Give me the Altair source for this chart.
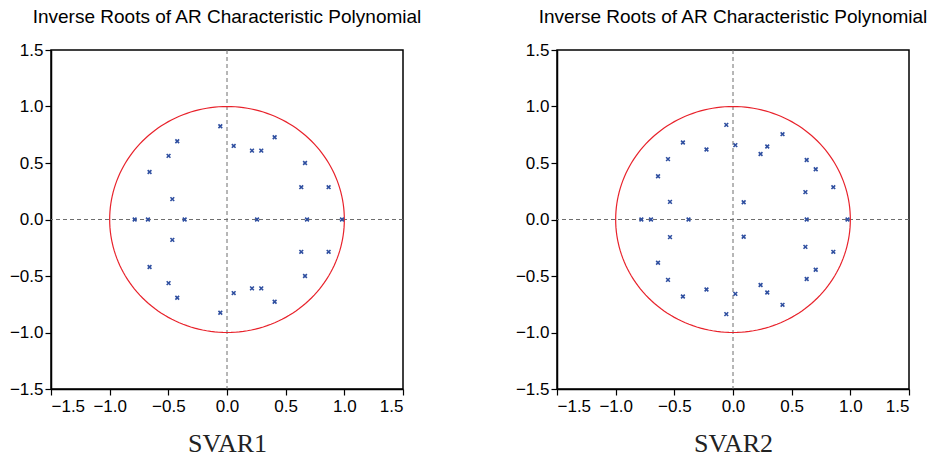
import altair as alt
import pandas as pd

chart_title = "Inverse Roots of AR Characteristic Polynomial"
panel_labels = ["SVAR1", "SVAR2"]
axis_ticks = [-1.5, -1.0, -0.5, 0.0, 0.5, 1.0, 1.5]

# SVAR1 inverse roots (real, imaginary)
svar1_re = [-0.787, -0.674, -0.361, 0.256, 0.682, 0.980,
            -0.057, -0.057, 0.057, 0.057, -0.424, -0.424, -0.498, -0.498,
            -0.660, -0.660, -0.466, -0.466, 0.213, 0.213, 0.292, 0.292,
            0.406, 0.406, 0.665, 0.665, 0.633, 0.633, 0.866, 0.866]
svar1_im = [0.0, 0.0, 0.0, 0.0, 0.0, 0.0,
            0.825, -0.825, 0.651, -0.651, 0.693, -0.693, 0.563, -0.563,
            0.420, -0.420, 0.180, -0.180, 0.610, -0.610, 0.610, -0.610,
            0.728, -0.728, 0.500, -0.500, 0.286, -0.286, 0.286, -0.286]

# SVAR2 inverse roots (real, imaginary)
svar2_re = [-0.781, -0.699, -0.379, 0.628, 0.976,
            -0.537, -0.537, -0.639, -0.639, -0.554, -0.554, -0.427, -0.427,
            -0.226, -0.226, -0.057, -0.057, 0.020, 0.020, 0.235, 0.235,
            0.292, 0.292, 0.422, 0.422, 0.628, 0.628, 0.705, 0.705,
            0.617, 0.617, 0.855, 0.855, 0.091, 0.091]
svar2_im = [0.0, 0.0, 0.0, 0.0, 0.0,
            0.156, -0.156, 0.383, -0.383, 0.534, -0.534, 0.681, -0.681,
            0.619, -0.619, 0.837, -0.837, 0.658, -0.658, 0.580, -0.580,
            0.646, -0.646, 0.755, -0.755, 0.527, -0.527, 0.445, -0.445,
            0.242, -0.242, 0.286, -0.286, 0.153, -0.153]

X_SHAPE = "M-1,-1L1,1M-1,1L1,-1"


def panel(re, im, label):
    df = pd.DataFrame({"re": re, "im": im})
    xs = alt.Scale(domain=[-1.5, 1.5], nice=False, zero=False)
    ys = alt.Scale(domain=[-1.5, 1.5], nice=False, zero=False)
    xaxis = alt.Axis(values=axis_ticks, format=".1f", grid=False, tickSize=6,
                     labelPadding=3, title=label, titleFont="Liberation Serif",
                     titleFontSize=26, titleFontWeight="normal", titlePadding=16,
                     titleColor="#222222")
    yaxis = alt.Axis(values=axis_ticks, format=".1f", grid=False, tickSize=6,
                     labelPadding=2, title=None)

    def X(field):
        return alt.X(field, type="quantitative", scale=xs, axis=xaxis)

    def Y(field):
        return alt.Y(field, type="quantitative", scale=ys, axis=yaxis)

    zero = pd.DataFrame({"v": [0.0]})
    vrule = alt.Chart(zero).mark_rule(color="#6e6e6e", strokeWidth=1,
                                      strokeDash=[4, 3]).encode(x=X("v"))
    hrule = alt.Chart(zero).mark_rule(color="#6e6e6e", strokeWidth=1,
                                      strokeDash=[4, 3]).encode(y=Y("v"))
    circle = (alt.Chart(alt.sequence(0, 362, 2, as_="deg"))
              .transform_calculate(cx="cos(datum.deg*PI/180)",
                                   cy="sin(datum.deg*PI/180)")
              .mark_line(color="#e8222b", strokeWidth=1.2)
              .encode(x=X("cx"), y=Y("cy"), order="deg:Q"))
    pts = (alt.Chart(df)
           .mark_point(shape=X_SHAPE, size=14, filled=False, color="#2f4fa0",
                       strokeWidth=1.6, opacity=1)
           .encode(x=X("re"), y=Y("im")))
    return alt.layer(vrule, hrule, circle, pts).properties(
        width=352, height=339,
        title=alt.TitleParams(chart_title, font="Liberation Sans", fontSize=19,
                              fontWeight="normal", anchor="middle", color="black",
                              offset=14))


chart = (alt.hconcat(panel(svar1_re, svar1_im, panel_labels[0]),
                     panel(svar2_re, svar2_im, panel_labels[1]), spacing=91)
         .properties(padding={"left": 8, "top": 7, "right": 0, "bottom": 0},
                     background="white")
         .configure_view(stroke="black", strokeWidth=1.5)
         .configure_axis(domainColor="black", tickColor="black", labelColor="black",
                         labelFont="Liberation Sans", labelFontSize=17,
                         domainWidth=1.5, tickWidth=1.2))

chart.save("out.html", embed_options={"renderer": "svg", "actions": False})
